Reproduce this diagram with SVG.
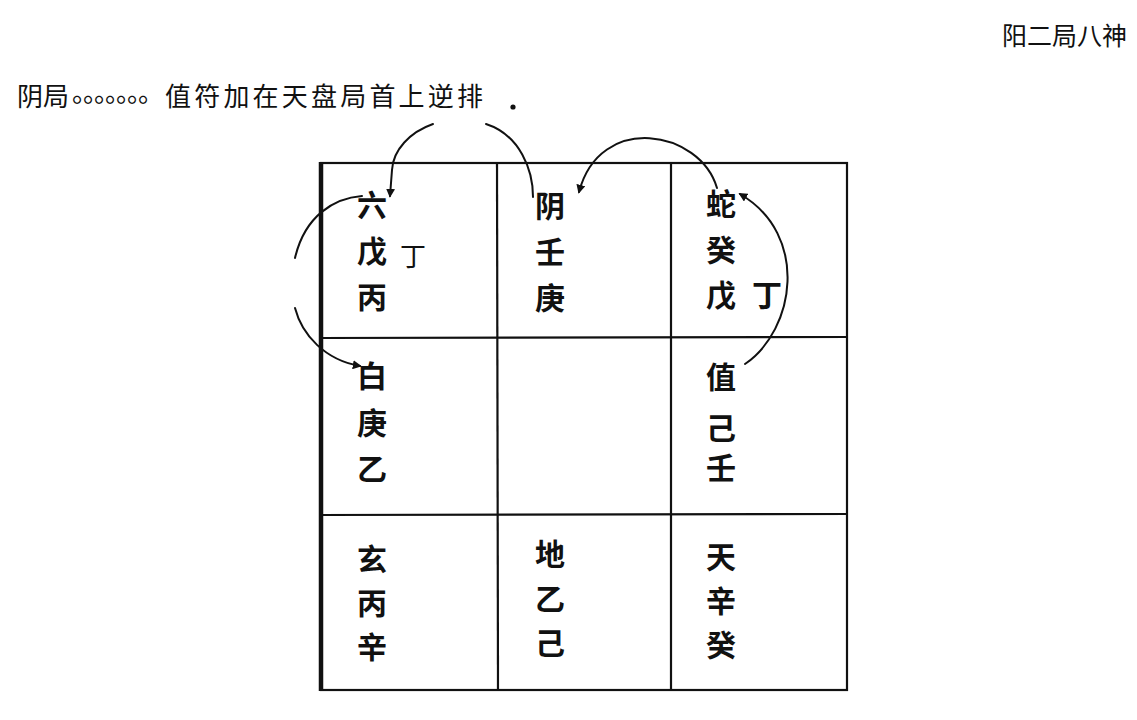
<svg xmlns="http://www.w3.org/2000/svg" width="1137" height="720" viewBox="0 0 1137 720">
<style>
text{font-family:"Noto Sans CJK SC","Noto Sans CJK TC",sans-serif;fill:#111}
.c{font-size:30px;font-weight:bold;text-anchor:middle;dominant-baseline:central}
.h{font-size:25px;dominant-baseline:central}
.s{font-size:26px;dominant-baseline:central}
.thin{font-size:26px;font-weight:normal}
.grid{stroke:#111;stroke-width:2.2;fill:none}
.arc{stroke:#111;stroke-width:2;fill:none;stroke-linecap:round}
</style>
<defs>
<marker id="ah" viewBox="0 0 10 10" refX="8" refY="5" markerWidth="9" markerHeight="9" markerUnits="userSpaceOnUse" orient="auto">
<path d="M0,0 L10,5 L0,10 z" fill="#111"/>
</marker>
</defs>
<rect width="1137" height="720" fill="#fff"/>
<g id="titles">
<text class="h" x="1002" y="34">阳二局八神</text>
<text class="s" x="17" y="94">阴局<tspan x="72 83 94 105 116 127 138" dy="-4">。。。。。。。</tspan><tspan x="165" dy="4" letter-spacing="3.2">值符加在天盘局首上逆排</tspan></text>
<circle cx="513" cy="107" r="2.6" fill="#111"/>
</g>
<g id="grid">
<rect class="grid" x="321" y="163" width="526" height="527"/>
<line class="grid" x1="321" y1="162" x2="321" y2="691" style="stroke-width:4.5"/>
<line class="grid" x1="497" y1="163" x2="498" y2="690"/>
<line class="grid" x1="671" y1="163" x2="671" y2="690"/>
<line class="grid" x1="321" y1="338" x2="847" y2="337"/>
<line class="grid" x1="321" y1="515" x2="847" y2="514"/>
</g>
<g id="cell-nw">
<text class="c" x="372" y="203">六</text>
<text class="c" x="372" y="249">戊</text>
<text class="c" x="372" y="295">丙</text>
<text class="c thin" x="413" y="254">丁</text>
</g>
<g id="cell-n">
<text class="c" x="550" y="204">阴</text>
<text class="c" x="550" y="250">壬</text>
<text class="c" x="550" y="296">庚</text>
</g>
<g id="cell-ne">
<text class="c" x="721" y="202">蛇</text>
<text class="c" x="721" y="248">癸</text>
<text class="c" x="721" y="293">戊</text>
<text class="c" x="767" y="293">丁</text>
</g>
<g id="cell-w">
<text class="c" x="372" y="374">白</text>
<text class="c" x="372" y="421">庚</text>
<text class="c" x="372" y="467">乙</text>
</g>
<g id="cell-e">
<text class="c" x="721" y="375">值</text>
<text class="c" x="721" y="426">己</text>
<text class="c" x="721" y="466">壬</text>
</g>
<g id="cell-sw">
<text class="c" x="372" y="557">玄</text>
<text class="c" x="372" y="601">丙</text>
<text class="c" x="372" y="645">辛</text>
</g>
<g id="cell-s">
<text class="c" x="550" y="552">地</text>
<text class="c" x="550" y="597">乙</text>
<text class="c" x="550" y="641">己</text>
</g>
<g id="cell-se">
<text class="c" x="721" y="555">天</text>
<text class="c" x="721" y="599">辛</text>
<text class="c" x="721" y="643">癸</text>
</g>
<g id="connectors">
<path class="arc" d="M745,364 C795,330 810,235 740,194" marker-end="url(#ah)"/>
<path class="arc" d="M717,188 C700,130 600,112 579,192" marker-end="url(#ah)"/>
<path class="arc" d="M533,197 C533,170 520,135 486,124"/>
<path class="arc" d="M433,124 C410,132 393,150 392,170 L390,196" marker-end="url(#ah)"/>
<path class="arc" d="M362,196 C335,198 305,215 295,258"/>
<path class="arc" d="M295,308 C302,335 325,360 360,366" marker-end="url(#ah)"/>
</g>
</svg>
